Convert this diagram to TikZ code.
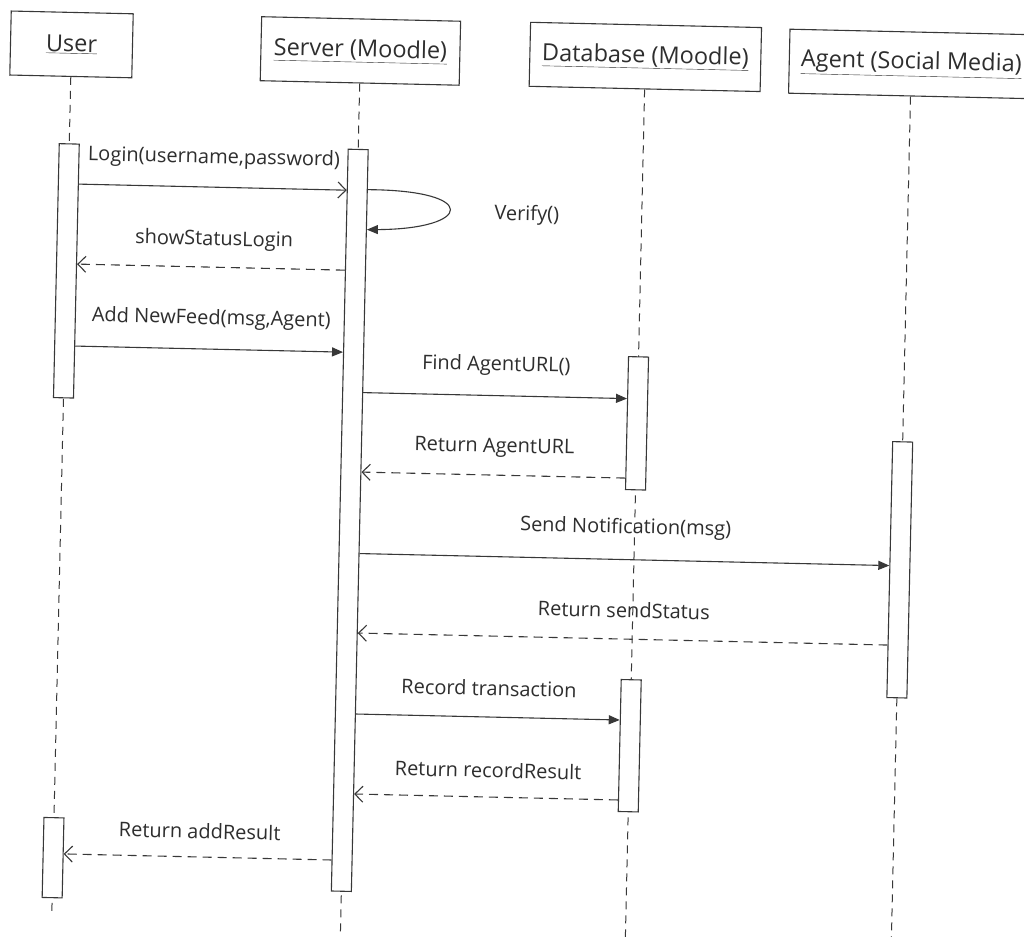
\documentclass[tikz,border=0pt]{standalone}
\usepackage{fontspec}
\setmainfont{Open Sans}
\usetikzlibrary{arrows.meta}
\definecolor{linec}{gray}{0.22}
\definecolor{textc}{gray}{0.18}
\begin{document}
\begin{tikzpicture}[x=1pt,y=-1pt,
  head/.style={draw=linec, line width=1.1pt, fill=white, minimum height=64pt, inner sep=0pt, text=textc, font=\fontsize{23.5}{26}\selectfont},
  bar/.style={draw=linec, line width=1.1pt, fill=white, minimum width=20pt, inner sep=0pt},
  life/.style={draw=linec, line width=1pt, dash pattern=on 8pt off 6pt},
  msg/.style={draw=linec, line width=1.1pt, -{Triangle[length=11pt,width=9pt]}},
  call/.style={draw=linec, line width=1.1pt, -{Straight Barb[length=8pt,width=16pt]}},
  ret/.style={draw=linec, line width=1.1pt, dash pattern=on 9pt off 6pt, -{Straight Barb[length=8pt,width=16pt]}},
  lbl/.style={text=textc, inner sep=1pt, font=\fontsize{20}{23}\selectfont}]
\fill[white] (-512,-468) rectangle (512,468);
\clip (-512,-468) rectangle (512,468);
\begin{scope}[rotate=-1.3, transform shape]
% headers
\node[head, minimum width=122pt] (hU) at (-450,-413.5) {\underline{User}};
\node[head, minimum width=199pt] (hS) at (-161,-413.5) {\underline{Server (Moodle)}};
\node[head, minimum width=231pt] (hD) at (124,-414) {\underline{Database (Moodle)}};
\node[head, minimum width=244pt] (hA) at (390,-413) {\underline{Agent (Social Media)}};
% lifeline ends
\coordinate (eU) at (-450,457);
\coordinate (eS) at (-161,480);
\coordinate (eD) at (124,480);
\coordinate (eA) at (390,480);
\draw[life] (hU.south) -- (eU);
\draw[life] (hS.south) -- (eS);
\draw[life] (hD.south) -- (eD);
\draw[life] (hA.south) -- (eA);
% activation bars
\node[bar, minimum height=254pt] (u1) at (-450,-187) {};
\node[bar, minimum height=742pt] (s1) at (-161,56) {};
\node[bar, minimum height=133pt] (d1) at (124,-47.5) {};
\node[bar, minimum height=256pt] (a1) at (390,93) {};
\node[bar, minimum height=132pt] (d2) at (124,275) {};
\node[bar, minimum height=80pt] (u2) at (-450,400) {};
% messages
\draw[call] (u1.east |- 0,-274) -- (s1.west |- 0,-274);
\node[lbl] (l1) at (-305,-303) {Login(username,password)};
\draw[msg] (s1.east |- 0,-275) .. controls (-38,-277) and (-45,-238) .. (s1.east |- 0,-235);
\node[lbl] (l2) at (9,-253) {Verify()};
\draw[ret] (s1.west |- 0,-194) -- (u1.east |- 0,-194);
\node[lbl] (l3) at (-303,-221) {showStatusLogin};
\draw[msg] (u1.east |- 0,-112) -- (s1.west |- 0,-112);
\node[lbl] (l4) at (-304,-142) {Add NewFeed(msg,Agent)};
\draw[msg] (s1.east |- 0,-72) -- (d1.west |- 0,-72);
\node[lbl] (l5) at (-18,-102) {Find AgentURL()};
\draw[ret] (d1.west |- 0,7.5) -- (s1.east |- 0,7.5);
\node[lbl] (l6) at (-18,-20) {Return AgentURL};
\draw[msg] (s1.east |- 0,89) -- (a1.west |- 0,89);
\node[lbl] (l7) at (115,57.5) {Send Notification(msg)};
\draw[ret] (a1.west |- 0,168.5) -- (s1.east |- 0,168.5);
\node[lbl] (l8) at (115,139.5) {Return sendStatus};
\draw[msg] (s1.east |- 0,249.5) -- (d2.west |- 0,249.5);
\node[lbl] (l9) at (-18,220.5) {Record transaction};
\draw[ret] (d2.west |- 0,329.5) -- (s1.east |- 0,329.5);
\node[lbl] (l10) at (-17,302.5) {Return recordResult};
\draw[ret] (s1.west |- 0,396) -- (u2.east |- 0,396);
\node[lbl] (l11) at (-304,370) {Return addResult};
\end{scope}
\end{tikzpicture}
\end{document}
